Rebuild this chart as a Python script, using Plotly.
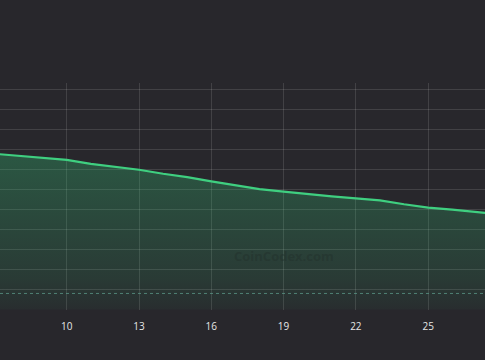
import plotly.graph_objects as go

days = list(range(7, 29))
values = [7.8, 7.7, 7.6, 7.5, 7.3, 7.15, 7.0, 6.8, 6.63, 6.42, 6.23, 6.03, 5.9, 5.77,
          5.67, 5.57, 5.47, 5.27, 5.1, 5.0, 4.87, 4.77]
tick_vals = [10, 13, 16, 19, 22, 25]
ref_level = 0.8

BG = "#28272c"

fig = go.Figure()
fig.add_trace(go.Scatter(
    x=days, y=values, mode="lines",
    line=dict(color="#3fcf80", width=2.2, shape="linear"),
    fill="tozeroy",
    fillgradient=dict(type="vertical", start=0, stop=7.8,
                      colorscale=[[0, "rgba(50,200,120,0.04)"], [0.2, "rgba(50,200,120,0.12)"],
                                  [1, "rgba(50,200,120,0.30)"]]),
    hoverinfo="skip", showlegend=False,
))

fig.add_shape(type="line", xref="paper", x0=0, x1=1, yref="y", y0=ref_level, y1=ref_level,
              line=dict(color="rgba(90,150,135,0.8)", width=1, dash="dot"))

fig.add_annotation(x=19, y=2.7, text="<b>CoinCodex.com</b>", showarrow=False,
                   font=dict(family="Open Sans", size=13, color="rgba(35,50,45,0.55)"))

fig.update_layout(
    width=485, height=360,
    paper_bgcolor=BG, plot_bgcolor=BG,
    margin=dict(l=0, r=0, t=83, b=50),
    xaxis=dict(range=[7.23, 27.36], tickvals=tick_vals, ticktext=[str(t) for t in tick_vals],
               showgrid=True, gridcolor="rgba(255,255,255,0.12)", gridwidth=1,
               zeroline=False, showline=False,
               ticks="outside", ticklen=7, tickcolor="rgba(0,0,0,0)",
               tickfont=dict(family="Open Sans", size=10, color="#e6e6e6")),
    yaxis=dict(range=[-0.03, 11.35], dtick=1, tick0=0, showticklabels=False,
               showgrid=True, gridcolor="rgba(255,255,255,0.12)", gridwidth=1,
               zeroline=False, showline=False),
)

fig.write_html("out.html")
